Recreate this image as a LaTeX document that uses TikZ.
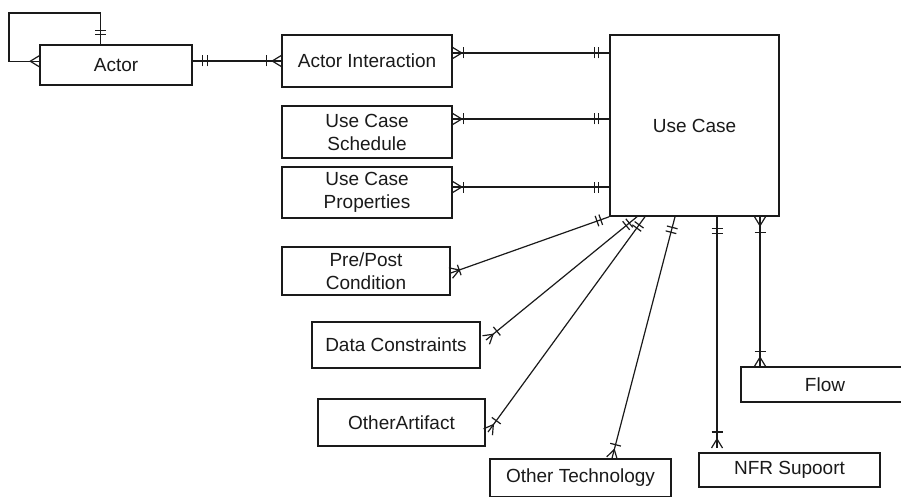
\documentclass[tikz,border=0pt]{standalone}
\usepackage{fontspec}
\setmainfont{Liberation Sans}
\usetikzlibrary{decorations.markings,calc}
\definecolor{ink}{HTML}{1A1A1A}
\tikzset{
  ent/.style={draw=ink, line width=1.5pt, inner sep=0pt, align=center,
    font=\fontsize{19pt}{23pt}\selectfont, text=ink},
  rel/.style={draw=ink, line width=1.2pt},
  barat/.style={postaction={decorate,decoration={markings,
    mark=at position #1 with {\draw[ink,line width=1.2pt] (0,-5.5pt)--(0,5.5pt);}}}},
  crowstart/.style={postaction={decorate,decoration={markings,
    mark=at position 0 with {\draw[ink,line width=1.2pt] (0,-5.5pt)--(9pt,0)--(0,5.5pt);}}}},
  crowend/.style={postaction={decorate,decoration={markings,
    mark=at position 1 with {\draw[ink,line width=1.2pt] (0,-5.5pt)--(-9pt,0)--(0,5.5pt);}}}},
}
\begin{document}
\begin{tikzpicture}[x=1pt,y=-1pt]
\fill[white] (0,0) rectangle (901,497);
\clip (0,0) rectangle (901,497);

% entities
\node[ent, minimum width=152pt, minimum height=40pt] (actor) at (116,65) {Actor};
\node[ent, minimum width=170pt, minimum height=52pt] (ai) at (367,61) {Actor Interaction};
\node[ent, minimum width=170pt, minimum height=52pt] (sch) at (367,132) {Use Case\\Schedule};
\node[ent, minimum width=170pt, minimum height=51pt] (prop) at (367,192.5) {Use Case\\Properties};
\node[ent, minimum width=169pt, minimum height=181pt] (uc) at (694.5,125.5) {Use Case};
\node[ent, minimum width=168pt, minimum height=48pt] (pp) at (366,271) {Pre/Post\\Condition};
\node[ent, minimum width=168pt, minimum height=46pt] (dc) at (396,345) {Data Constraints};
\node[ent, minimum width=167pt, minimum height=47pt] (oa) at (401.5,422.5) {OtherArtifact};
\node[ent, minimum width=181pt, minimum height=38pt] (ot) at (580.5,478) {Other Technology};
\node[ent, minimum width=181pt, minimum height=34pt] (nfr) at (789.5,470) {NFR Supoort};
\node[ent, minimum width=168pt, minimum height=35pt] (flow) at (825,384.5) {Flow};

% free ends of relationship lines
\coordinate (dcend) at (486,340);
\coordinate (oaend) at (488,432);
\coordinate (nfrend) at (717,448);

% Actor self relationship
\draw[rel, barat=10pt, barat=14pt, crowend]
  ($(actor.north west)+(61,0)$) |- (9,13) |- ($(actor.north west)+(0,17)$);

% Actor -- Actor Interaction
\draw[rel, barat=10pt, barat=15pt, barat=-15pt, crowend]
  (actor.east |- 0,61) -- (ai.west |- 0,61);

% left-hand entities -- Use Case
\draw[rel, crowstart, barat=11pt, barat=-15pt, barat=-11pt]
  (ai.east |- 0,53) -- (uc.west |- 0,53);
\draw[rel, crowstart, barat=11pt, barat=-15pt, barat=-11pt]
  (sch.east |- 0,119) -- (uc.west |- 0,119);
\draw[rel, crowstart, barat=11pt, barat=-15pt, barat=-11pt]
  (prop.east |- 0,187) -- (uc.west |- 0,187);
\draw[rel, crowstart, barat=9pt, barat=-13pt, barat=-9pt]
  (pp.east |- 0,273) -- (uc.south west);

% Use Case -- lower entities
\draw[rel, barat=10pt, barat=14pt, barat=-14pt, crowend]
  (uc.south -| 637,0) -- (dcend);
\draw[rel, barat=10pt, barat=14pt, barat=-14pt, crowend]
  (uc.south -| 645,0) -- (oaend);
\draw[rel, barat=11pt, barat=16pt, barat=-14pt, crowend]
  (uc.south -| 675,0) -- (ot.north -| 612,0);
\draw[rel, barat=12pt, barat=17pt, barat=-16pt, crowend]
  (uc.south -| 717,0) -- (nfrend);
\draw[rel, crowstart, barat=16pt, barat=-15pt, crowend]
  (uc.south -| 760,0) -- (flow.north -| 760,0);
\end{tikzpicture}
\end{document}
